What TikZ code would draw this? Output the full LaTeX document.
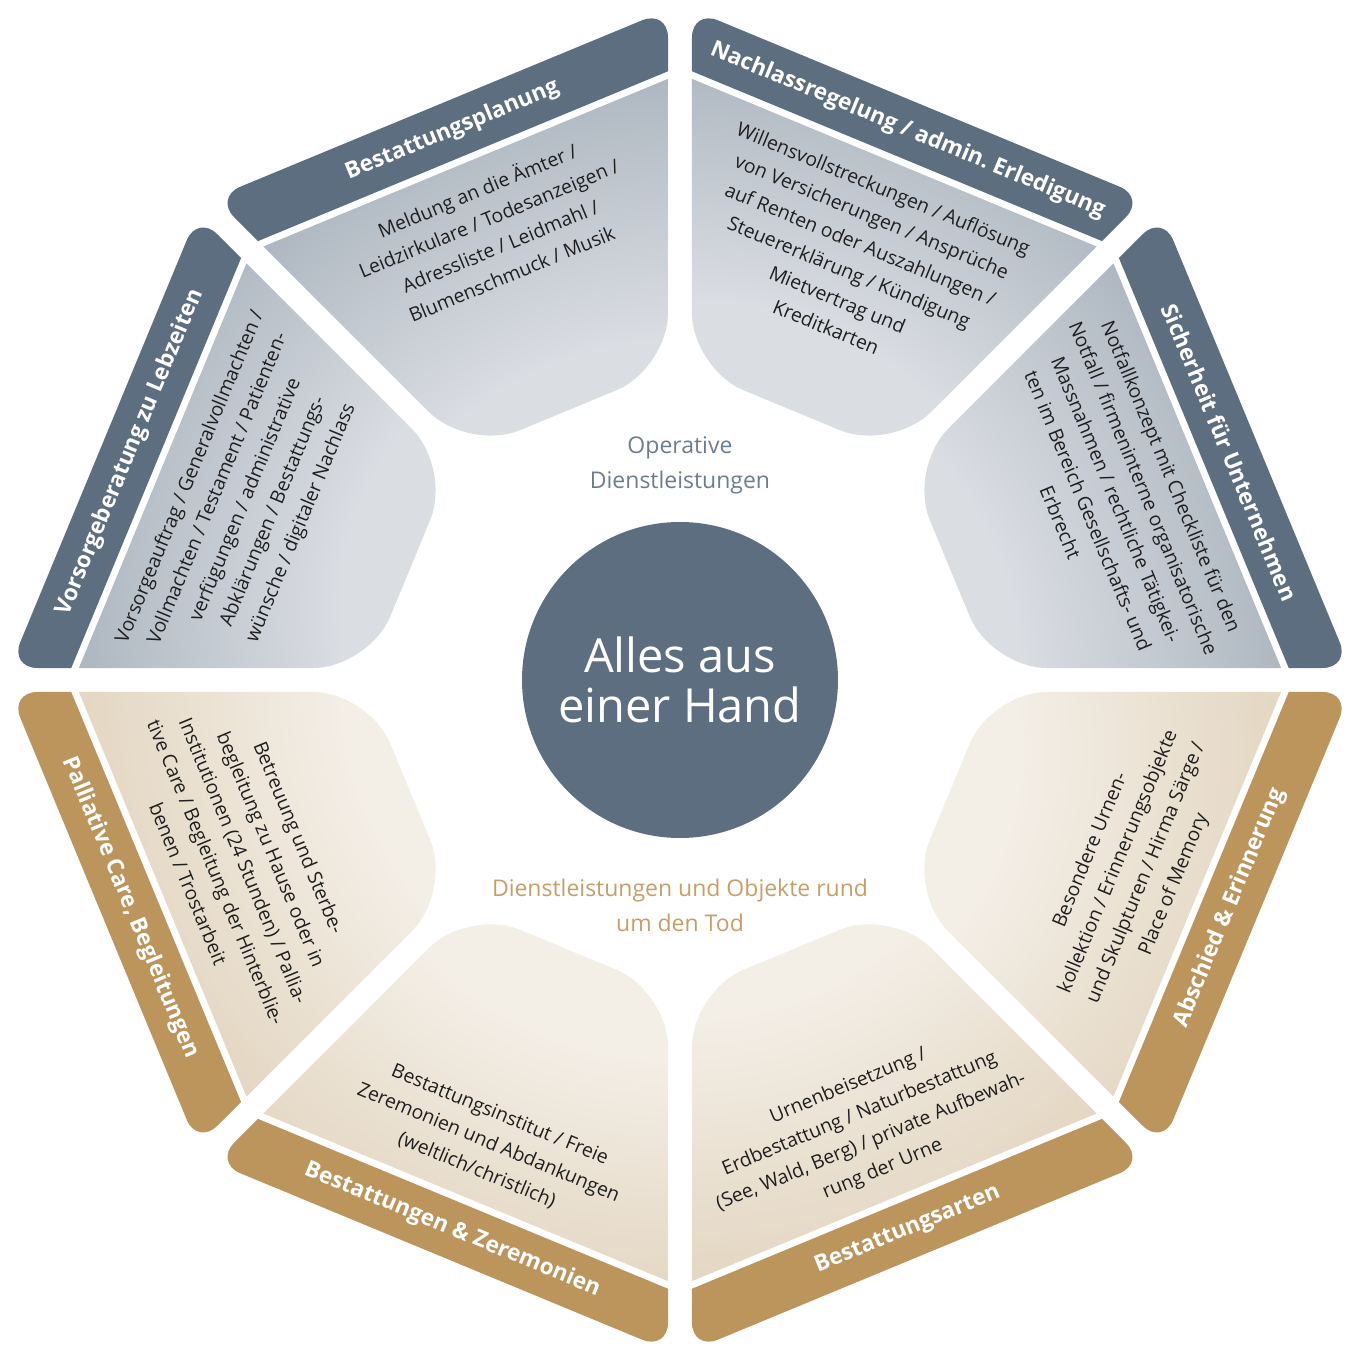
\documentclass[tikz,border=0pt]{standalone}
\usepackage{fontspec}
\setmainfont{Open Sans}
\usepackage{tikz}
\definecolor{band-slate}{HTML}{5D6E80}
\definecolor{band-gold}{HTML}{BC955D}
\definecolor{slate-dark}{HTML}{A9B3BD}
\definecolor{slate-light}{HTML}{DADDE2}
\definecolor{gold-dark}{HTML}{E2D4BE}
\definecolor{gold-light}{HTML}{F3EEE6}
\definecolor{slate-text}{HTML}{6C7D8E}
\definecolor{gold-text}{HTML}{C79E68}
\pgfdeclareradialshading{slatefade}{\pgfpointorigin}{color(0bp)=(slate-light); color(11bp)=(slate-light); color(20.5bp)=(slate-dark); color(50bp)=(slate-dark)}
\pgfdeclareradialshading{goldfade}{\pgfpointorigin}{color(0bp)=(gold-light); color(11bp)=(gold-light); color(20.5bp)=(gold-dark); color(50bp)=(gold-dark)}

\begin{document}
\begin{tikzpicture}[x=0.5pt, y=0.5pt,
  title/.style={inner sep=0pt, text=white, align=center,
                font=\fontsize{11.3}{13}\selectfont\bfseries},
  body/.style={inner sep=0pt, text=black!88, align=center,
               font=\fontsize{9.7}{15}\selectfont},
  midlabel/.style={inner sep=0pt, align=center, font=\fontsize{11.5}{17.5}\selectfont},
  hub/.style={circle, fill=band-slate, minimum size=158pt, inner sep=0pt,
              text=white, align=center, font=\fontsize{23.5}{25}\selectfont}]

  \useasboundingbox (-680,-669) rectangle (676,680);

  % eight segments: outer band + shaded inner field
  \foreach \ang/\band/\fade in {22.5/band-slate/slatefade, 67.5/band-slate/slatefade,
      112.5/band-slate/slatefade, 157.5/band-slate/slatefade,
      202.5/band-gold/goldfade, 247.5/band-gold/goldfade,
      292.5/band-gold/goldfade, 337.5/band-gold/goldfade}{
    \begin{scope}[rotate=\ang-90]
      \begin{scope}
        \clip (-400,567) rectangle (400,700);
        \fill[\band, rounded corners=14] (-202.4,520) -- (202.4,520) -- (245.5,624) -- (-245.5,624) -- cycle;
      \end{scope}
      \begin{scope}
        \clip (-400,0) rectangle (400,560);
        \clip[rounded corners=28] (-108,292) -- (108,292) -- (239.7,610) -- (-239.7,610) -- cycle;
        \shade[shading=\fade] (0,0) circle (680);
      \end{scope}
    \end{scope}
  }

  % band titles
  \node[title, rotate=-67.5] (t-sicher) at (22.5:595) {Sicherheit für Unternehmen};
  \node[title, rotate=-22.5] (t-nachlass) at (67.5:595) {Nachlassregelung / admin.\ Erledigung};
  \node[title, rotate=22.5] (t-planung) at (112.5:595) {Bestattungsplanung};
  \node[title, rotate=67.5] (t-vorsorge) at (157.5:595) {Vorsorgeberatung zu Lebzeiten};
  \node[title, rotate=-67.5] (t-palliativ) at (202.5:595) {Palliative Care, Begleitungen};
  \node[title, rotate=-22.5] (t-zeremonie) at (247.5:595) {Bestattungen \& Zeremonien};
  \node[title, rotate=22.5] (t-arten) at (292.5:595) {Bestattungsarten};
  \node[title, rotate=67.5] (t-abschied) at (337.5:595) {Abschied \& Erinnerung};

  % field texts
  \node[body, anchor=north, rotate=-67.5] (b-sicher) at (22.5:540)
    {Notfallkonzept mit Checkliste für den\\Notfall / firmeninterne organisatorische\\Massnahmen / rechtliche Tätigkei-\\ten im Bereich Gesellschafts- und\\Erbrecht};
  \node[body, anchor=north, rotate=-22.5] (b-nachlass) at (67.5:540)
    {Willensvollstreckungen / Auflösung\\von Versicherungen / Ansprüche\\auf Renten oder Auszahlungen /\\Steuererklärung / Kündigung\\Mietvertrag und\\Kreditkarten};
  \node[body, anchor=north, rotate=22.5] (b-planung) at (112.5:540)
    {Meldung an die Ämter /\\Leidzirkulare / Todesanzeigen /\\Adressliste / Leidmahl /\\Blumenschmuck / Musik};
  \node[body, anchor=north, rotate=67.5] (b-vorsorge) at (157.5:540)
    {Vorsorgeauftrag / Generalvollmachten /\\Vollmachten / Testament / Patienten-\\verfügungen / administrative\\Abklärungen / Bestattungs-\\wünsche / digitaler Nachlass};
  \node[body, anchor=south, rotate=-67.5] (b-palliativ) at (202.5:540)
    {Betreuung und Sterbe-\\begleitung zu Hause oder in\\Institutionen (24 Stunden) / Pallia-\\tive Care / Begleitung der Hinterblie-\\benen / Trostarbeit};
  \node[body, anchor=south, rotate=-22.5] (b-zeremonie) at (247.5:540)
    {Bestattungsinstitut / Freie\\Zeremonien und Abdankungen\\(weltlich/christlich)};
  \node[body, anchor=south, rotate=22.5] (b-arten) at (292.5:540)
    {Urnenbeisetzung /\\Erdbestattung / Naturbestattung\\(See, Wald, Berg) / private Aufbewah-\\rung der Urne};
  \node[body, anchor=south, rotate=67.5] (b-abschied) at (337.5:545)
    {Besondere Urnen-\\kollektion / Erinnerungsobjekte\\und Skulpturen / Hirma Särge /\\Place of Memory};

  % centre
  \node[midlabel, text=slate-text] (ops) at (0,215) {Operative\\Dienstleistungen};
  \node[midlabel, text=gold-text] (objekte) at (0,-225) {Dienstleistungen und Objekte rund\\um den Tod};
  \node[hub] (hub) at (0,0) {Alles aus\\einer Hand};

\end{tikzpicture}
\end{document}
